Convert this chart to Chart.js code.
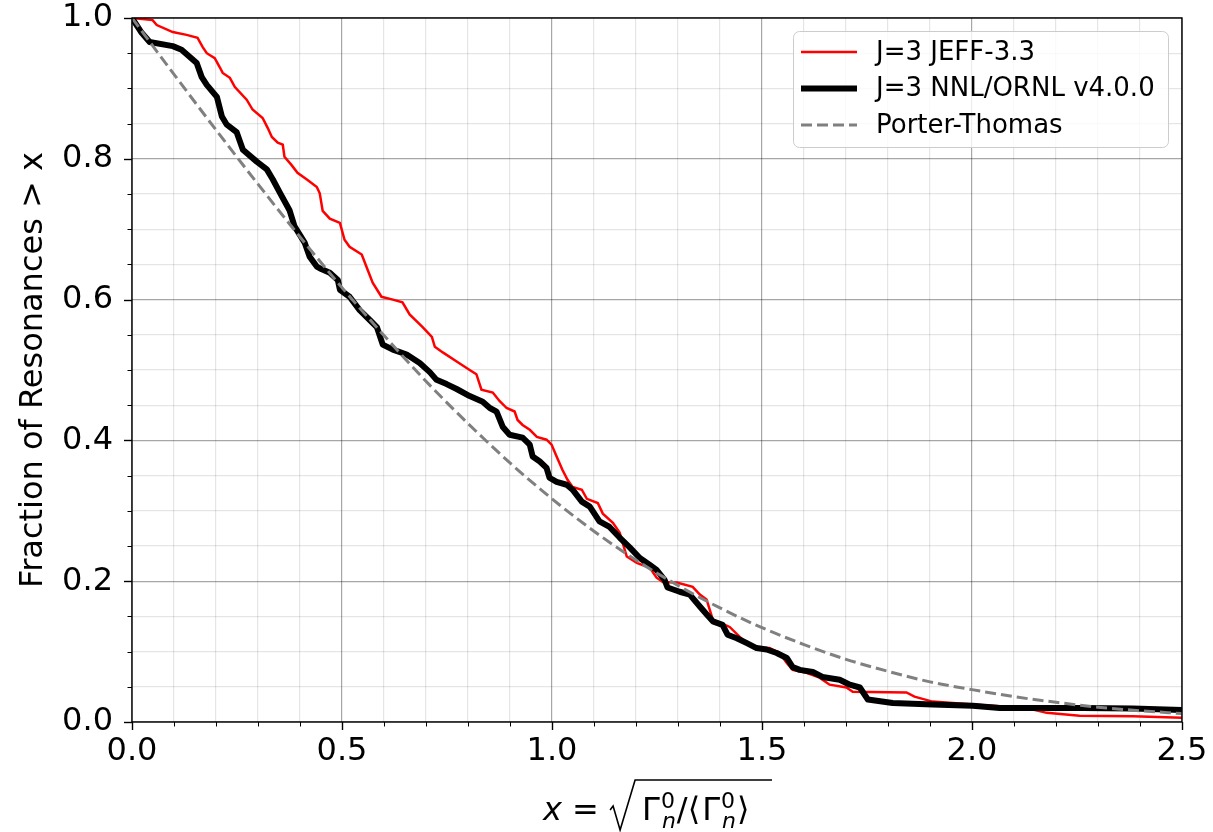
<!DOCTYPE html>
<html>
<head>
<meta charset="utf-8">
<script src="https://cdn.jsdelivr.net/npm/chart.js@4"></script>
<style>
  body { margin: 0; background: #fff; }
</style>
</head>
<body>
<canvas id="chart" width="1213" height="832"></canvas>
<script>
// J=3 JEFF-3.3
const jeffX = [0, 0.049, 0.059, 0.097, 0.130, 0.156, 0.168, 0.178, 0.197, 0.209, 0.216, 0.233, 0.245, 0.273, 0.287, 0.311, 0.323, 0.333, 0.347, 0.359, 0.363, 0.380, 0.394, 0.418, 0.440, 0.447, 0.454, 0.471, 0.495, 0.506, 0.518, 0.547, 0.558, 0.573, 0.594, 0.621, 0.644, 0.661, 0.692, 0.714, 0.721, 0.740, 0.773, 0.804, 0.820, 0.832, 0.859, 0.875, 0.892, 0.911, 0.918, 0.930, 0.947, 0.964, 0.987, 0.999, 1.011, 1.025, 1.037, 1.049, 1.071, 1.083, 1.109, 1.121, 1.145, 1.161, 1.178, 1.202, 1.233, 1.249, 1.264, 1.297, 1.335, 1.352, 1.368, 1.383, 1.400, 1.423, 1.447, 1.464, 1.487, 1.518, 1.542, 1.559, 1.573, 1.606, 1.637, 1.661, 1.701, 1.716, 1.844, 1.863, 1.906, 2.002, 2.130, 2.178, 2.256, 2.383, 2.5];
const jeffY = [1.0, 0.997, 0.990, 0.980, 0.976, 0.972, 0.959, 0.950, 0.943, 0.930, 0.922, 0.915, 0.902, 0.884, 0.870, 0.858, 0.844, 0.831, 0.823, 0.820, 0.803, 0.791, 0.780, 0.770, 0.760, 0.751, 0.726, 0.715, 0.709, 0.685, 0.675, 0.664, 0.647, 0.624, 0.604, 0.600, 0.596, 0.579, 0.561, 0.547, 0.533, 0.525, 0.512, 0.500, 0.494, 0.472, 0.468, 0.456, 0.446, 0.441, 0.429, 0.422, 0.415, 0.405, 0.401, 0.394, 0.377, 0.358, 0.344, 0.334, 0.330, 0.317, 0.311, 0.296, 0.283, 0.269, 0.235, 0.226, 0.219, 0.205, 0.199, 0.198, 0.192, 0.181, 0.174, 0.145, 0.141, 0.135, 0.121, 0.112, 0.105, 0.105, 0.098, 0.084, 0.074, 0.070, 0.063, 0.053, 0.049, 0.043, 0.042, 0.036, 0.029, 0.025, 0.020, 0.013, 0.009, 0.008, 0.006];

// J=3 NNL/ORNL v4.0.0
const nnlX = [0, 0.023, 0.042, 0.097, 0.118, 0.154, 0.166, 0.178, 0.202, 0.214, 0.225, 0.249, 0.264, 0.297, 0.321, 0.335, 0.352, 0.375, 0.387, 0.411, 0.423, 0.440, 0.452, 0.471, 0.490, 0.495, 0.518, 0.542, 0.566, 0.583, 0.597, 0.621, 0.654, 0.685, 0.709, 0.725, 0.749, 0.773, 0.804, 0.835, 0.852, 0.868, 0.883, 0.899, 0.930, 0.947, 0.954, 0.971, 0.987, 0.994, 1.011, 1.035, 1.049, 1.071, 1.090, 1.113, 1.137, 1.161, 1.185, 1.209, 1.233, 1.249, 1.268, 1.275, 1.304, 1.328, 1.352, 1.368, 1.383, 1.406, 1.418, 1.440, 1.464, 1.487, 1.511, 1.535, 1.559, 1.573, 1.590, 1.621, 1.644, 1.685, 1.709, 1.733, 1.752, 1.811, 1.906, 2.002, 2.066, 2.264, 2.383, 2.5];
const nnlY = [1.0, 0.979, 0.966, 0.960, 0.955, 0.936, 0.916, 0.905, 0.888, 0.860, 0.849, 0.838, 0.813, 0.796, 0.785, 0.771, 0.752, 0.727, 0.704, 0.681, 0.661, 0.647, 0.643, 0.638, 0.628, 0.614, 0.604, 0.585, 0.571, 0.561, 0.536, 0.529, 0.522, 0.510, 0.497, 0.486, 0.480, 0.473, 0.463, 0.455, 0.446, 0.441, 0.419, 0.408, 0.404, 0.394, 0.377, 0.370, 0.361, 0.347, 0.341, 0.337, 0.330, 0.313, 0.306, 0.285, 0.277, 0.262, 0.248, 0.233, 0.223, 0.216, 0.202, 0.191, 0.185, 0.181, 0.164, 0.153, 0.143, 0.138, 0.124, 0.119, 0.112, 0.105, 0.103, 0.098, 0.091, 0.078, 0.074, 0.071, 0.064, 0.060, 0.053, 0.049, 0.032, 0.027, 0.025, 0.023, 0.020, 0.020, 0.019, 0.017];

// Porter-Thomas
const ptX = [0, 0.1, 0.2, 0.3, 0.4, 0.5, 0.6, 0.7, 0.8, 0.9, 1.0, 1.1, 1.2, 1.3, 1.4, 1.5, 1.6, 1.7, 1.8, 1.9, 2.0, 2.1, 2.2, 2.3, 2.4, 2.5];
const ptY = [1.0, 0.920, 0.841, 0.764, 0.689, 0.617, 0.549, 0.484, 0.424, 0.368, 0.317, 0.271, 0.230, 0.194, 0.162, 0.134, 0.110, 0.089, 0.072, 0.057, 0.046, 0.036, 0.028, 0.021, 0.016, 0.012];

// major tick values (labels), minor ones go every 0.1 / 0.05
const xMajor = [0, 0.5, 1.0, 1.5, 2.0, 2.5];
const yMajor = [0, 0.2, 0.4, 0.6, 0.8, 1.0];

const FONT = 'DejaVu Sans';

function pts(xs, ys) {
    return xs.map((x, i) => ({ x: x, y: ys[i] }));
}
function isMajor(v, list) {
    return list.some(m => Math.abs(m - v) < 1e-6);
}

// ticks, frame, legend, axis titles
const extras = {
    id: 'extras',
    afterDraw(chart) {
        const ctx = chart.ctx;
        const a = chart.chartArea;
        const xs = chart.scales.x, ys = chart.scales.y;
        ctx.save();

        // tick marks
        ctx.strokeStyle = '#000';
        xs.ticks.forEach(t => {
            const major = isMajor(t.value, xMajor);
            const px = Math.round(xs.getPixelForValue(t.value)) + 0.5;
            ctx.lineWidth = major ? 1.4 : 1;
            ctx.beginPath();
            ctx.moveTo(px, a.bottom);
            ctx.lineTo(px, a.bottom + (major ? 8 : 4.5));
            ctx.stroke();
        });
        ys.ticks.forEach(t => {
            const major = isMajor(t.value, yMajor);
            const py = Math.round(ys.getPixelForValue(t.value)) + 0.5;
            ctx.lineWidth = major ? 1.4 : 1;
            ctx.beginPath();
            ctx.moveTo(a.left, py);
            ctx.lineTo(a.left - (major ? 8 : 4.5), py);
            ctx.stroke();
        });

        // frame
        ctx.lineWidth = 1.4;
        ctx.strokeRect(a.left, a.top, a.right - a.left, a.bottom - a.top);

        // legend
        const lx = 793, ly = 31, lw = 375, lh = 116;
        ctx.beginPath();
        ctx.roundRect(lx + 0.5, ly + 0.5, lw, lh, 6);
        ctx.fillStyle = 'rgba(255,255,255,0.8)';
        ctx.fill();
        ctx.strokeStyle = '#cccccc';
        ctx.lineWidth = 1;
        ctx.stroke();
        ctx.font = '26px ' + FONT;
        ctx.textBaseline = 'middle';
        ctx.textAlign = 'left';
        chart.data.datasets.forEach((d, i) => {
            const y = 52 + i * 36.5;
            ctx.strokeStyle = d.borderColor;
            ctx.lineWidth = d.borderWidth;
            ctx.setLineDash(d.borderDash || []);
            ctx.beginPath();
            ctx.moveTo(801, y);
            ctx.lineTo(857, y);
            ctx.stroke();
            ctx.setLineDash([]);
            ctx.fillStyle = '#000';
            ctx.fillText(d.label, 876, y + 1);
        });

        // y title
        ctx.save();
        ctx.translate(34, (a.top + a.bottom) / 2);
        ctx.rotate(-Math.PI / 2);
        ctx.textAlign = 'center';
        ctx.textBaseline = 'middle';
        ctx.font = '32px ' + FONT;
        ctx.fillStyle = '#000';
        ctx.fillText('Fraction of Resonances > x', 0, 0);
        ctx.restore();

        // x title: x = sqrt(Γ⁰ₙ / ⟨Γ⁰ₙ⟩)
        ctx.fillStyle = '#000';
        ctx.textBaseline = 'alphabetic';
        ctx.textAlign = 'left';
        const base = 820;
        let cx = 543;
        ctx.font = 'italic 32px ' + FONT;
        ctx.fillText('x', cx, base);
        cx += ctx.measureText('x').width;
        ctx.font = '32px ' + FONT;
        ctx.fillText(' = ', cx, base);
        cx += ctx.measureText(' = ').width;
        // radical sign
        const rTop = 780;
        ctx.strokeStyle = '#000';
        ctx.lineWidth = 1.6;
        ctx.beginPath();
        ctx.moveTo(cx + 1, 810);
        ctx.lineTo(cx + 4, 806);
        ctx.lineTo(cx + 11, 830);
        ctx.lineTo(cx + 26, rTop);
        ctx.lineTo(772, rTop);
        ctx.stroke();
        cx += 33;
        const gamma = () => {
            ctx.font = '32px ' + FONT;
            ctx.fillText('Γ', cx, base);
            cx += ctx.measureText('Γ').width + 1;
            ctx.font = '22px ' + FONT;
            ctx.fillText('0', cx, base - 12);
            ctx.font = 'italic 22px ' + FONT;
            ctx.fillText('n', cx + 1, base + 8);
            cx += ctx.measureText('n').width + 2;
        };
        gamma();
        ctx.font = '32px ' + FONT;
        ctx.fillText('/', cx, base);
        cx += ctx.measureText('/').width;
        ctx.fillText('⟨', cx, base);
        cx += ctx.measureText('⟨').width + 2;
        gamma();
        ctx.font = '32px ' + FONT;
        ctx.fillText('⟩', cx, base);

        ctx.restore();
    }
};

const ctx = document.getElementById('chart').getContext('2d');

const myChart = new Chart(ctx, {
    type: 'line',
    data: {
        datasets: [
            {
                label: 'J=3 JEFF-3.3',
                data: pts(jeffX, jeffY),
                borderColor: '#ff0000',
                borderWidth: 2.5,
                pointRadius: 0,
                tension: 0,
                order: 3
            },
            {
                label: 'J=3 NNL/ORNL v4.0.0',
                data: pts(nnlX, nnlY),
                borderColor: '#000000',
                borderWidth: 6,
                pointRadius: 0,
                tension: 0,
                borderJoinStyle: 'round',
                order: 2
            },
            {
                label: 'Porter-Thomas',
                data: pts(ptX, ptY),
                borderColor: '#808080',
                borderWidth: 3,
                borderDash: [11, 5],
                pointRadius: 0,
                cubicInterpolationMode: 'monotone',
                order: 1
            }
        ]
    },
    options: {
        responsive: false,
        animation: false,
        layout: { padding: { left: 0, top: 18, right: 31, bottom: 0 } },
        plugins: {
            legend: { display: false },
            tooltip: { enabled: false }
        },
        scales: {
            x: {
                type: 'linear',
                min: 0,
                max: 2.5,
                border: { display: false },
                grid: {
                    drawTicks: false,
                    color: c => isMajor(c.tick.value, xMajor) ? 'rgba(0,0,0,0.35)' : 'rgba(0,0,0,0.1)',
                    lineWidth: 1.2
                },
                ticks: {
                    stepSize: 0.1,
                    autoSkip: false,
                    maxRotation: 0,
                    padding: 10,
                    color: '#000',
                    font: { family: FONT, size: 32 },
                    callback: v => isMajor(v, xMajor) ? v.toFixed(1) : ''
                },
                afterFit: s => { s.height = 110; s.paddingLeft = 0; s.paddingRight = 0; }
            },
            y: {
                type: 'linear',
                min: 0,
                max: 1,
                border: { display: false },
                grid: {
                    drawTicks: false,
                    color: c => isMajor(c.tick.value, yMajor) ? 'rgba(0,0,0,0.35)' : 'rgba(0,0,0,0.1)',
                    lineWidth: 1.2
                },
                ticks: {
                    stepSize: 0.05,
                    autoSkip: false,
                    padding: 19,
                    color: '#000',
                    font: { family: FONT, size: 32 },
                    callback: v => isMajor(v, yMajor) ? v.toFixed(1) : ''
                },
                afterFit: s => { s.width = 132; s.paddingTop = 0; s.paddingBottom = 0; }
            }
        }
    },
    plugins: [extras]
});
</script>
</body>
</html>
